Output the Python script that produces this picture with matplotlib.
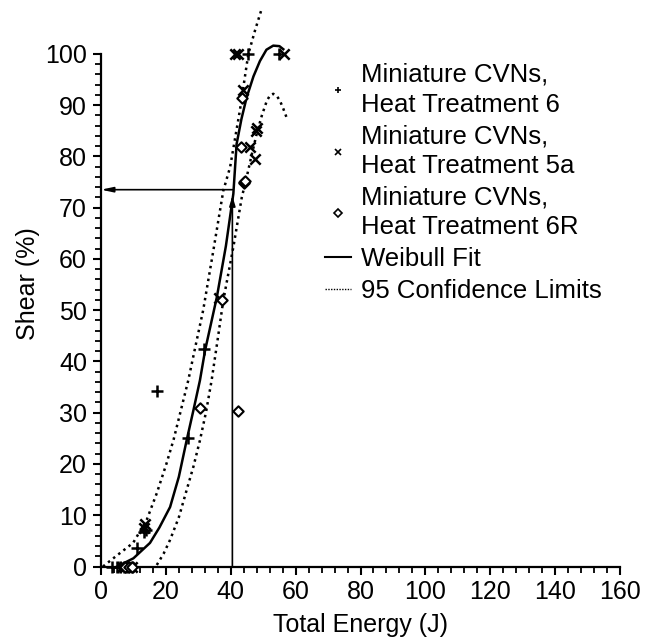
import matplotlib
matplotlib.use('Agg')
import matplotlib.pyplot as plt
from matplotlib.lines import Line2D

plt.rcParams['font.family'] = ['Liberation Sans', 'DejaVu Sans']

# measured points, shear (%) vs total energy (J)
ht6_energy = [3.5, 5, 6, 7, 8, 9.5, 11.2, 13.4, 13.8, 17.2, 26.7, 31.7, 45.2, 55]
ht6_shear = [0, 0, 0, 0, 0, 0, 3.6, 6.8, 7.2, 34.2, 25.1, 42.4, 100, 100]

ht5a_energy = [6.5, 7.5, 8.5, 9.5, 13.5, 13.2, 36.4, 41.3, 42.3, 43.7, 45.9, 47.5,
               47.8, 48.0, 56.5]
ht5a_shear = [0, 0, 0, 0, 8.2, 7.5, 52.3, 100, 100, 93, 81.8, 79.4, 85, 85.6, 100]

ht6r_energy = [7.5, 8.5, 9.5, 30.5, 37.2, 42.1, 43.1, 43.4, 44.1, 44.2, 44.3]
ht6r_shear = [0, 0, 0, 31.0, 52.0, 30.4, 81.8, 91.3, 74.8, 75.0, 75.2]

# Weibull fit and its 95 % confidence band
fit_energy = [5, 10, 15.1, 18, 21.3, 24, 26.4, 28.5, 30.5, 32.1, 35.7, 38.5, 40.8,
              41.8, 43.3, 44.9, 47, 49, 51, 53.1, 55, 56.2]
fit_shear = [0, 1.6, 4.6, 7.6, 11.6, 17.5, 24.6, 30.5, 36.3, 42.2, 52.5, 62.5, 72.7,
             82.4, 87.3, 91.5, 95.6, 98.6, 100.8, 101.6, 101.5, 100.9]

upper_energy = [0.6, 5, 9.9, 14.1, 17.2, 20.2, 22.4, 24.4, 26.9, 29.2, 31.5, 34.6,
                37.7, 39.8, 42.8, 45.4, 47.5, 49.5]
upper_shear = [0, 2.2, 4.6, 9.1, 14.3, 20.1, 24.8, 29.9, 36.3, 43.2, 50, 61.5,
               73.3, 77.9, 88.9, 99.9, 104.6, 108.7]

lower_energy = [17.2, 19.3, 21.3, 24, 26.4, 28.5, 30.5, 32.4, 34.1, 35.9, 37.7,
                40.8, 43.4, 44.9, 46.5, 48, 49.6, 51.1, 52.1, 53.1, 54.2, 55.2, 56.2, 57.2]
lower_shear = [0.3, 2.5, 5.2, 9.6, 14.9, 19.5, 24.6, 30.2, 36.3, 44.0, 51.9,
               62.3, 72, 75.9, 80.4, 84.4, 88, 90.8, 91.9, 92.2, 91.8, 90.8, 89.3, 87.6]

cutoff_energy = 40.5
cutoff_shear = 73.5

fig = plt.figure(figsize=(6.5, 6.43), dpi=100)
ax = fig.add_axes([101 / 650, 76.5 / 643, 519 / 650, 566.5 / 643])

ax.plot(fit_energy, fit_shear, color='black', lw=1.8)
ax.plot(upper_energy, upper_shear, color='black', lw=1.8, ls=(0, (1, 1.6)))
ax.plot(lower_energy, lower_shear, color='black', lw=1.8, ls=(0, (1, 1.6)))

ax.scatter(ht6_energy, ht6_shear, marker='+', s=70, c='black', linewidths=1.8,
           zorder=3, clip_on=False)
ax.scatter(ht5a_energy, ht5a_shear, marker='x', s=55, c='black', linewidths=1.8,
           zorder=3, clip_on=False)
ax.scatter(ht6r_energy, ht6r_shear, marker='D', s=28, facecolors='white',
           edgecolors='black', linewidths=1.5, zorder=3, clip_on=False)

# read-off of shear at the cutoff energy
ax.annotate('', xy=(cutoff_energy, cutoff_shear - 1.2), xytext=(cutoff_energy, 0),
            arrowprops=dict(arrowstyle='-|>,head_length=0.6,head_width=0.18',
                            color='black', lw=1.2, shrinkA=0, shrinkB=0))
ax.annotate('', xy=(0, cutoff_shear), xytext=(cutoff_energy, cutoff_shear),
            arrowprops=dict(arrowstyle='-|>,head_length=0.7,head_width=0.15',
                            color='black', lw=1.2, shrinkA=0, shrinkB=0))

ax.set_xlim(0, 160)
ax.set_ylim(0, 110.5)
ax.set_xticks(range(0, 161, 20))
ax.set_xticks(range(0, 161, 4), minor=True)
ax.set_yticks(range(0, 101, 10))
ax.set_yticks(range(0, 101, 2), minor=True)
ax.spines['top'].set_visible(False)
ax.spines['right'].set_visible(False)
ax.spines['left'].set_bounds(0, 100)
ax.spines['left'].set_linewidth(1.6)
ax.spines['bottom'].set_linewidth(1.6)
ax.tick_params(which='major', direction='out', length=6, width=1.5, labelsize=18, pad=4)
ax.tick_params(which='minor', direction='out', length=4, width=1.3)
ax.set_xlabel('Total Energy (J)', fontsize=18, labelpad=6)
ax.set_ylabel('Shear (%)', fontsize=18, labelpad=4)

handles = [
    Line2D([], [], ls='none', marker='+', ms=5, mew=1.2, color='black'),
    Line2D([], [], ls='none', marker='x', ms=4.5, mew=1.2, color='black'),
    Line2D([], [], ls='none', marker='D', ms=4, mew=1.2, mfc='white', color='black'),
    Line2D([], [], color='black', lw=1.5),
    Line2D([], [], color='black', lw=1.0, ls=(0, (1, 1))),
]
labels = ['Miniature CVNs,\nHeat Treatment 6',
          'Miniature CVNs,\nHeat Treatment 5a',
          'Miniature CVNs,\nHeat Treatment 6R',
          'Weibull Fit',
          '95 Confidence Limits']
leg = fig.legend(handles, labels, loc='upper left', bbox_to_anchor=(312 / 650, 1 - 50 / 643),
                 frameon=False, fontsize=18.5, handlelength=1.0, handletextpad=0.4,
                 labelspacing=0.3, borderpad=0)
for t in leg.get_texts():
    t.set_linespacing(1.3)

plt.savefig('out.png', dpi=100)
